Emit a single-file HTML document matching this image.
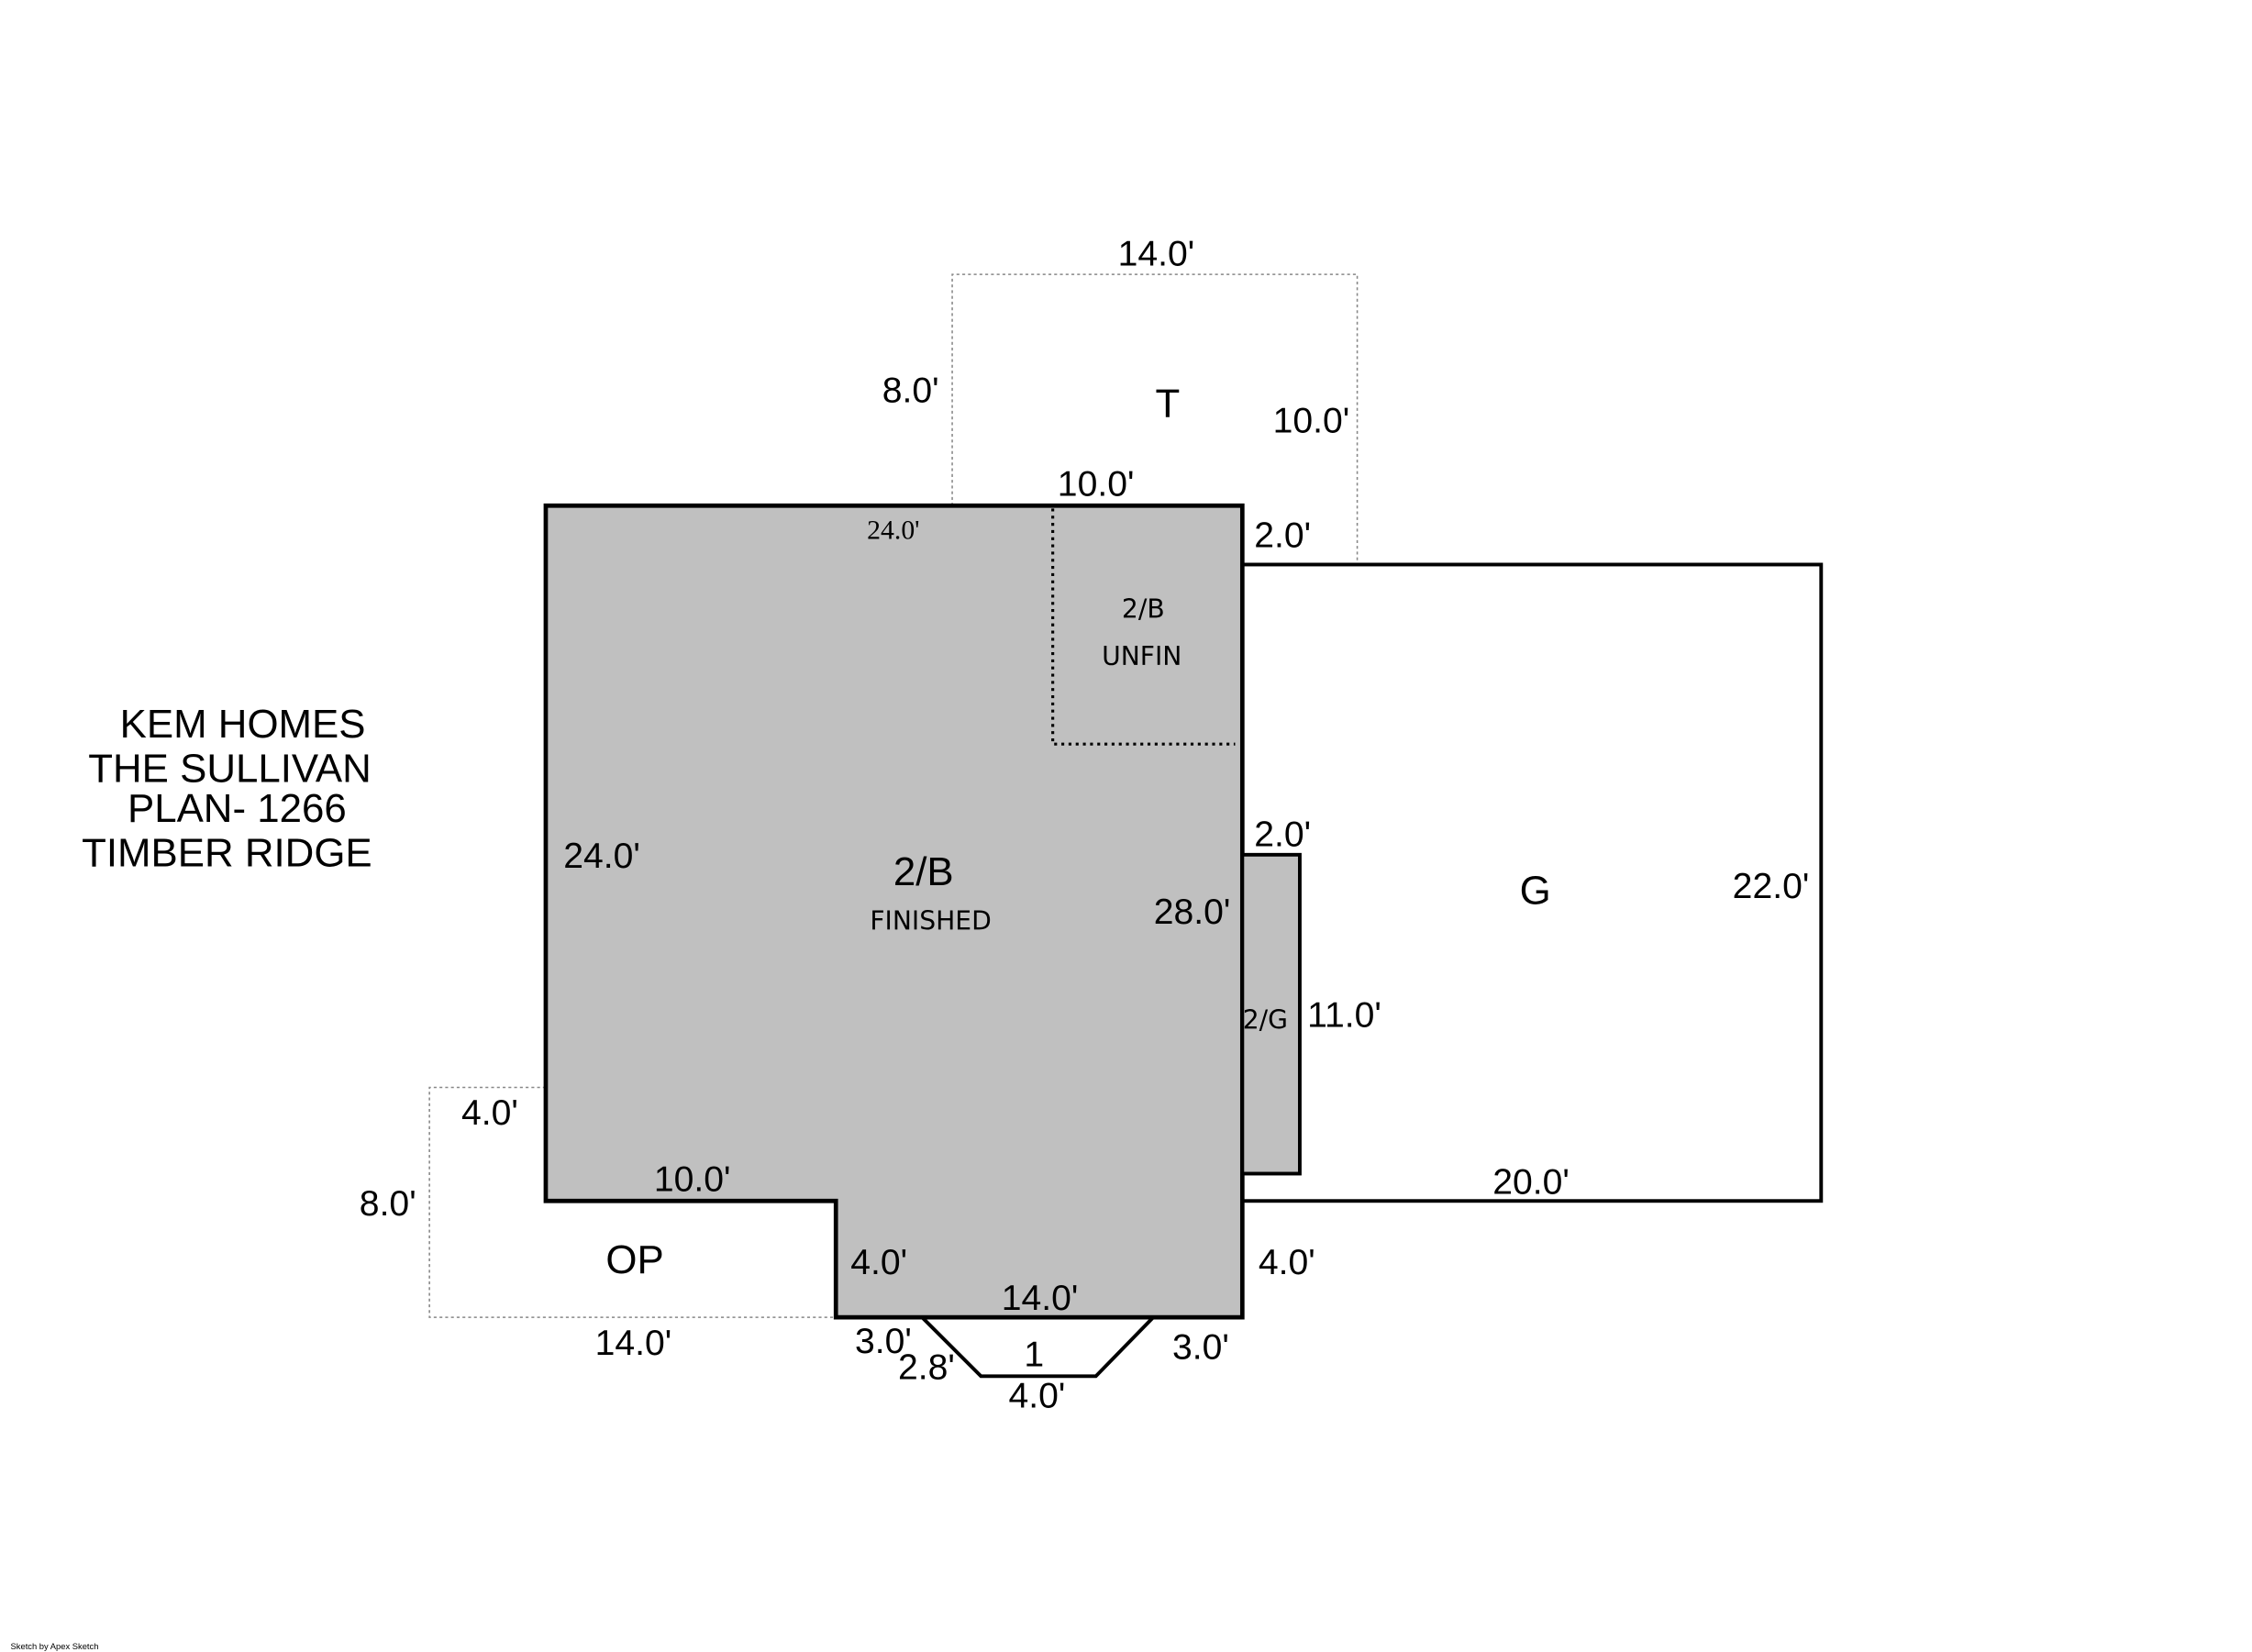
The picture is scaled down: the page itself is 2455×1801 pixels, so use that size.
<!DOCTYPE html>
<html><head><meta charset="utf-8"><style>
html,body{margin:0;padding:0;background:#fff;}
svg{display:block;}
text{font-family:"Liberation Sans",sans-serif;fill:#000;text-anchor:middle;dominant-baseline:central;}
.d{font-size:25px;}
.s{font-family:"DejaVu Sans",sans-serif;font-size:18px;}
.t{font-size:28px;}
</style></head><body>
<svg width="2455" height="1801" viewBox="0 0 1568 1150" preserveAspectRatio="none">
<polyline points="663,352 663,191 945,191 945,393" fill="none" stroke="#888" stroke-width="1" stroke-dasharray="2,2"/>
<polyline points="380,757 299,757 299,917 582,917" fill="none" stroke="#888" stroke-width="1" stroke-dasharray="2,2"/>
<rect x="865" y="393" width="403" height="443" fill="#fff" stroke="#000" stroke-width="2.5"/>
<polygon points="380,352 865,352 865,917 582,917 582,836 380,836" fill="#c0c0c0" stroke="#000" stroke-width="3"/>
<rect x="865" y="595" width="40" height="222" fill="#c0c0c0" stroke="#000" stroke-width="2.5"/>
<polyline points="733,354 733,518 860,518" fill="none" stroke="#000" stroke-width="2" stroke-dasharray="2,3"/>
<polyline points="642,917 683,958 763,958 803,917" fill="none" stroke="#000" stroke-width="2.5"/>
<text class="d" x="805" y="177">14.0'</text>
<text class="d" x="634" y="272">8.0'</text>
<text class="t" x="813" y="281">T</text>
<text class="d" x="913" y="293">10.0'</text>
<text class="d" x="763" y="337">10.0'</text>
<text x="622" y="369" style="font-family:'Liberation Serif',serif;font-size:19px;">24.0'</text>
<text class="d" x="893" y="373">2.0'</text>
<text class="s" x="796" y="424">2/B</text>
<text class="s" x="795" y="457">UNFIN</text>
<text class="t" x="169" y="504">KEM HOMES</text>
<text class="t" x="160" y="535">THE SULLIVAN</text>
<text class="t" x="165" y="563">PLAN- 1266</text>
<text class="t" x="158" y="594">TIMBER RIDGE</text>
<text class="d" x="419" y="596">24.0'</text>
<text class="t" x="643" y="607">2/B</text>
<text class="s" x="648" y="641">FINISHED</text>
<text class="d" x="893" y="581">2.0'</text>
<text class="t" x="1069" y="620">G</text>
<text class="d" x="1233" y="617">22.0'</text>
<text class="d" x="830" y="635">28.0'</text>
<text class="s" x="881" y="710">2/G</text>
<text class="d" x="936" y="707">11.0'</text>
<text class="d" x="341" y="775">4.0'</text>
<text class="d" x="270" y="838">8.0'</text>
<text class="d" x="482" y="821">10.0'</text>
<text class="d" x="1066" y="823">20.0'</text>
<text class="t" x="442" y="877">OP</text>
<text class="d" x="612" y="879">4.0'</text>
<text class="d" x="896" y="879">4.0'</text>
<text class="d" x="724" y="904">14.0'</text>
<text class="d" x="441" y="935">14.0'</text>
<text class="d" x="615" y="934">3.0'</text>
<text class="d" x="836" y="938">3.0'</text>
<text class="d" x="720" y="943">1</text>
<text class="d" x="645" y="952">2.8'</text>
<text class="d" x="722" y="972">4.0'</text>
<text x="38" y="1146" style="font-size:6px;">Sketch by Apex Sketch</text>
</svg>
</body></html>
